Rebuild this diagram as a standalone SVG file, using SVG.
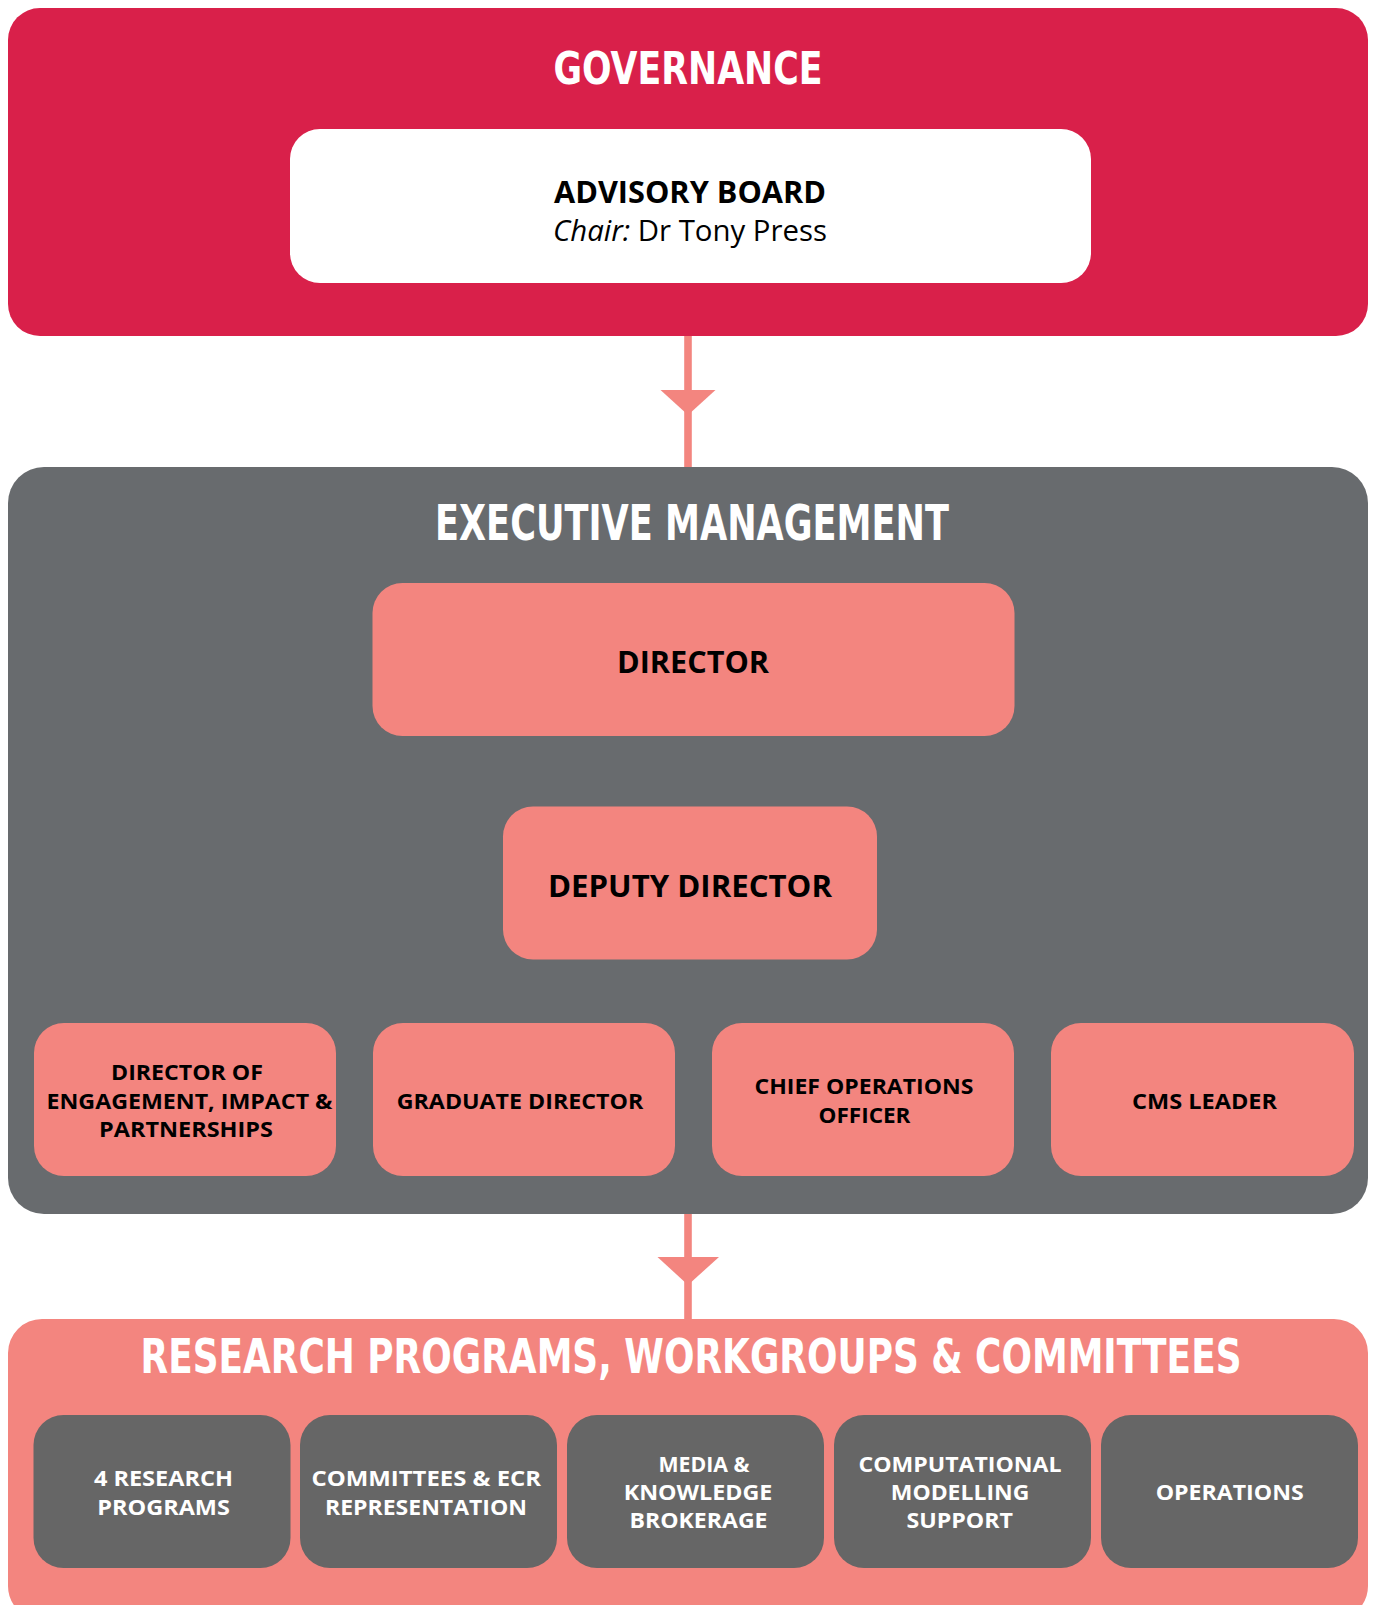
<svg xmlns="http://www.w3.org/2000/svg" width="1376" height="1605" viewBox="0 0 1376 1605">
<style>
.title{font-family:"Liberation Sans Narrow","DejaVu Sans Condensed","Liberation Sans",sans-serif;font-weight:bold;fill:#fff;text-anchor:middle;}
.lbl{font-family:"Open Sans","Noto Sans","Liberation Sans",sans-serif;font-weight:bold;text-anchor:middle;}
.dark{fill:#000;}
.light{fill:#fff;}
.salmon{fill:#F3857F;}
.gbox{fill:#666666;}
</style>
<rect width="1376" height="1605" fill="#fff"/>
<g id="governance">
  <rect x="8" y="8" width="1360" height="328" rx="32" fill="#D9204A"/>
  <text class="title" x="688" y="84" font-size="44" textLength="269" lengthAdjust="spacingAndGlyphs">GOVERNANCE</text>
</g>
<g id="advisory-board">
  <rect x="290" y="129" width="801" height="154" rx="30" fill="#fff"/>
  <text class="lbl dark" x="690" y="203" font-size="30" textLength="272" lengthAdjust="spacingAndGlyphs">ADVISORY BOARD</text>
  <text x="690" y="241" font-size="29" text-anchor="middle" font-family="Open Sans, Noto Sans, Liberation Sans, sans-serif" fill="#000" textLength="274" lengthAdjust="spacingAndGlyphs"><tspan font-style="italic">Chair:</tspan> Dr Tony Press</text>
</g>
<g id="executive-management">
  <rect x="8" y="467" width="1360" height="747" rx="36" fill="#686B6E"/>
  <text class="title" x="692" y="540" font-size="49" textLength="514" lengthAdjust="spacingAndGlyphs">EXECUTIVE MANAGEMENT</text>
</g>
<g id="director">
  <rect class="salmon" x="372.5" y="583" width="642" height="153" rx="30"/>
  <text class="lbl dark" x="693" y="673" font-size="30" textLength="152" lengthAdjust="spacingAndGlyphs">DIRECTOR</text>
</g>
<g id="deputy-director">
  <rect class="salmon" x="503" y="806.5" width="374" height="153" rx="30"/>
  <text class="lbl dark" x="690" y="897" font-size="30" textLength="284" lengthAdjust="spacingAndGlyphs">DEPUTY DIRECTOR</text>
</g>
<g id="director-engagement">
  <rect class="salmon" x="34" y="1023" width="302" height="153" rx="30"/>
  <text class="lbl dark" x="187" y="1080" font-size="22" textLength="152" lengthAdjust="spacingAndGlyphs">DIRECTOR OF</text>
  <text class="lbl dark" x="189.5" y="1108.5" font-size="22" textLength="286" lengthAdjust="spacingAndGlyphs">ENGAGEMENT, IMPACT &amp;</text>
  <text class="lbl dark" x="186" y="1137" font-size="22" textLength="174" lengthAdjust="spacingAndGlyphs">PARTNERSHIPS</text>
</g>
<g id="graduate-director">
  <rect class="salmon" x="373" y="1023" width="302" height="153" rx="30"/>
  <text class="lbl dark" x="520" y="1108.5" font-size="22" textLength="246.5" lengthAdjust="spacingAndGlyphs">GRADUATE DIRECTOR</text>
</g>
<g id="chief-operations-officer">
  <rect class="salmon" x="712" y="1023" width="302" height="153" rx="30"/>
  <text class="lbl dark" x="864" y="1093.5" font-size="22" textLength="219" lengthAdjust="spacingAndGlyphs">CHIEF OPERATIONS</text>
  <text class="lbl dark" x="864.5" y="1122.5" font-size="22" textLength="92" lengthAdjust="spacingAndGlyphs">OFFICER</text>
</g>
<g id="cms-leader">
  <rect class="salmon" x="1051" y="1023" width="303" height="153" rx="30"/>
  <text class="lbl dark" x="1204.5" y="1108.5" font-size="22" textLength="145" lengthAdjust="spacingAndGlyphs">CMS LEADER</text>
</g>
<g id="research">
  <path class="salmon" d="M8,1353 A34,34 0 0 1 42,1319 H1334 A34,34 0 0 1 1368,1353 V1586 A34,34 0 0 1 1362.2,1605 H13.8 A34,34 0 0 1 8,1586 Z"/>
  <text class="title" x="691" y="1373" font-size="48" textLength="1101" lengthAdjust="spacingAndGlyphs">RESEARCH PROGRAMS, WORKGROUPS &amp; COMMITTEES</text>
</g>
<g id="research-programs">
  <rect class="gbox" x="33.5" y="1415" width="257" height="153" rx="30"/>
  <text class="lbl light" x="163.4" y="1486" font-size="22" textLength="139" lengthAdjust="spacingAndGlyphs">4 RESEARCH</text>
  <text class="lbl light" x="163.6" y="1515" font-size="22" textLength="132.6" lengthAdjust="spacingAndGlyphs">PROGRAMS</text>
</g>
<g id="committees">
  <rect class="gbox" x="300" y="1415" width="257" height="153" rx="30"/>
  <text class="lbl light" x="426.3" y="1486" font-size="22" textLength="229.5" lengthAdjust="spacingAndGlyphs">COMMITTEES &amp; ECR</text>
  <text class="lbl light" x="426" y="1515" font-size="22" textLength="202" lengthAdjust="spacingAndGlyphs">REPRESENTATION</text>
</g>
<g id="media">
  <rect class="gbox" x="567" y="1415" width="257" height="153" rx="30"/>
  <text class="lbl light" x="704" y="1471.7" font-size="22" textLength="91" lengthAdjust="spacingAndGlyphs">MEDIA &amp;</text>
  <text class="lbl light" x="698" y="1500" font-size="22" textLength="148.6" lengthAdjust="spacingAndGlyphs">KNOWLEDGE</text>
  <text class="lbl light" x="698.5" y="1528.3" font-size="22" textLength="138" lengthAdjust="spacingAndGlyphs">BROKERAGE</text>
</g>
<g id="computational">
  <rect class="gbox" x="834" y="1415" width="257" height="153" rx="30"/>
  <text class="lbl light" x="960" y="1471.7" font-size="22" textLength="203" lengthAdjust="spacingAndGlyphs">COMPUTATIONAL</text>
  <text class="lbl light" x="960" y="1500" font-size="22" textLength="138.5" lengthAdjust="spacingAndGlyphs">MODELLING</text>
  <text class="lbl light" x="959.7" y="1528.3" font-size="22" textLength="106.5" lengthAdjust="spacingAndGlyphs">SUPPORT</text>
</g>
<g id="operations">
  <rect class="gbox" x="1101" y="1415" width="257" height="153" rx="30"/>
  <text class="lbl light" x="1229.7" y="1500" font-size="22" textLength="148" lengthAdjust="spacingAndGlyphs">OPERATIONS</text>
</g>
<g id="connectors" fill="#F3857F" stroke="none">
  <rect x="684.2" y="336" width="7.6" height="131"/>
  <polygon points="660.5,390 715.5,390 688,415"/>
  <rect x="684.2" y="1214" width="7.6" height="105"/>
  <polygon points="657.5,1257 719,1257 688,1285"/>
</g>
</svg>
